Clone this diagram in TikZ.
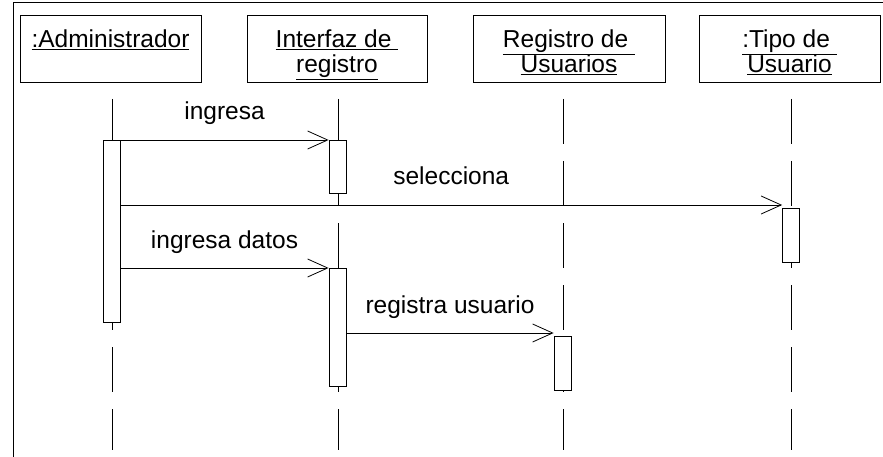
\documentclass[tikz,border=0pt]{standalone}
\usepackage{fontspec}
\setmainfont{Liberation Sans}
\usetikzlibrary{arrows.meta}

\tikzset{
  objbox/.style={draw, line width=0.8pt, inner xsep=0pt, inner ysep=0pt, align=center,
    minimum width=181pt, text height=58pt, text depth=9pt, anchor=base,
    font=\fontsize{24.5}{25}\selectfont},
  activation/.style={draw, fill=white, line width=0.8pt, inner sep=0pt,
    minimum width=17pt, anchor=north},
  lifeline/.style={line width=0.8pt, dash pattern=on 45pt off 17pt, dash phase=45pt},
  msg/.style={line width=0.8pt, -{Straight Barb[length=20pt,width=18pt,line width=0.8pt]}},
  msglabel/.style={midway, anchor=base, yshift=20pt, inner sep=0pt,
    font=\fontsize{24.5}{25}\selectfont}
}

\begin{document}
\begin{tikzpicture}[x=1pt, y=-1pt]
  \useasboundingbox (0,0) rectangle (883,457);
  % frame
  \draw[line width=0.8pt] (13,457) -- (13,2) -- (883,2);

  % objects
  \node[objbox] (admin) at (110.5,73) {\underline{:Administrador}\\ \mbox{}};
  \node[objbox, minimum width=180pt] (interfaz) at (337,73) {\underline{Interfaz de\ }\\ \underline{registro}};
  \node[objbox, minimum width=192pt] (registro) at (569,73) {\underline{Registro de\ }\\ \underline{Usuarios}};
  \node[objbox] (tipo) at (789.5,73) {\underline{:Tipo de\ }\\ \underline{Usuario}};

  % lifelines
  \foreach \x in {112,338,563,791}
    \draw[lifeline] (\x,82) -- (\x,450);

  % activations
  \node[activation, minimum height=182pt] (actAdmin) at (111.5,140) {};
  \node[activation, minimum height=53pt] (actInterfazA) at (337.5,140) {};
  \node[activation, minimum height=54pt] (actTipo) at (791,208) {};
  \node[activation, minimum height=118pt] (actInterfazB) at (337.5,268) {};
  \node[activation, minimum height=54pt] (actRegistro) at (562.5,336) {};

  % messages
  \draw[msg] (actAdmin.east |- actInterfazA.north west) -- (actInterfazA.north west)
    node[msglabel] {ingresa};
  \draw[msg] (actAdmin.east |- 0,205) -- ([yshift=3pt]actTipo.north west)
    node[msglabel] {selecciona};
  \draw[msg] (actAdmin.east |- actInterfazB.north west) -- (actInterfazB.north west)
    node[msglabel] {ingresa datos};
  \draw[msg] (actInterfazB.east |- 0,333) -- ([yshift=3pt]actRegistro.north west)
    node[msglabel] {registra usuario};
\end{tikzpicture}
\end{document}
